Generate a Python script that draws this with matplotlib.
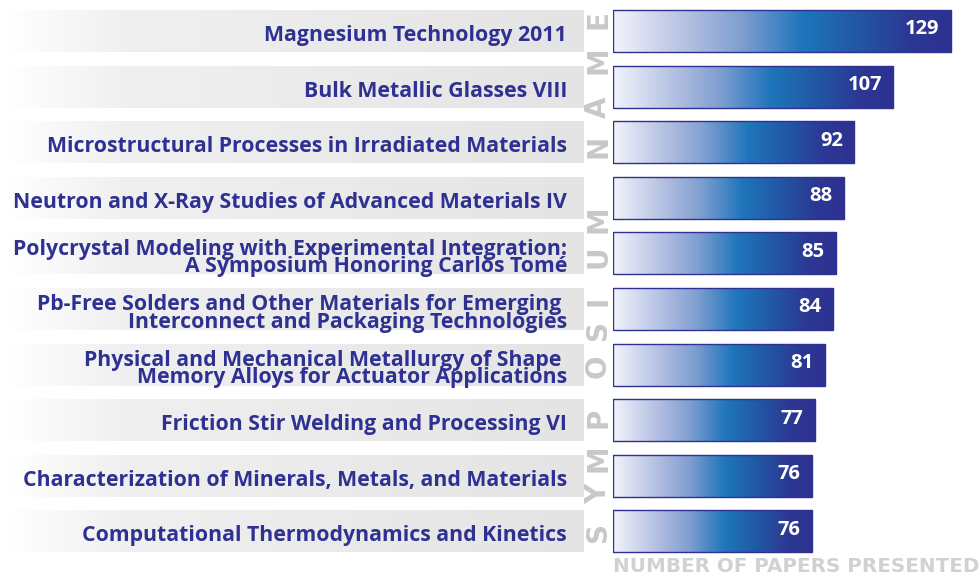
import numpy as np
import matplotlib
matplotlib.use("Agg")
import matplotlib.pyplot as plt
from matplotlib.colors import LinearSegmentedColormap

plt.rcParams['font.family'] = ['Open Sans', 'DejaVu Sans']

# data
symposia = [
    "Magnesium Technology 2011",
    "Bulk Metallic Glasses VIII",
    "Microstructural Processes in Irradiated Materials",
    "Neutron and X-Ray Studies of Advanced Materials IV",
    "Polycrystal Modeling with Experimental Integration:\nA Symposium Honoring Carlos Tomé",
    "Pb-Free Solders and Other Materials for Emerging \nInterconnect and Packaging Technologies",
    "Physical and Mechanical Metallurgy of Shape \nMemory Alloys for Actuator Applications",
    "Friction Stir Welding and Processing VI",
    "Characterization of Minerals, Metals, and Materials",
    "Computational Thermodynamics and Kinetics",
]
papers = [129, 107, 92, 88, 85, 84, 81, 77, 76, 76]
axis_title = "NUMBER OF PAPERS PRESENTED"
side_title = "SYMPOSIUM NAME"

navy = '#2e3192'
bar_cmap = LinearSegmentedColormap.from_list('bar', [
    (0.0, '#f3f4fb'), (0.12, '#d0d7ee'), (0.25, '#aab9de'), (0.38, '#7f9fd0'),
    (0.5, '#3f82c3'), (0.56, '#1e76bb'), (0.72, '#2258a5'), (0.88, '#2c3893'),
    (1.0, navy)])
band_cmap = LinearSegmentedColormap.from_list('band', [
    (0.0, '#ffffff'), (0.2, '#f0f0f0'), (1.0, '#e4e4e4')])
grad = np.linspace(0, 1, 256).reshape(1, -1)

fig = plt.figure(figsize=(9.8, 5.82), dpi=100)

# background layer in pixel units
bg = fig.add_axes([0, 0, 1, 1])
bg.axis('off')

# bar layer
px_per_unit = 2.62
spacing = 55.6
top_center = 31
ax = fig.add_axes([613 / 980, 0, 367 / 980, 1])
ax.axis('off')
bh = 0.755

for i, (name, v) in enumerate(zip(symposia, papers)):
    yc = top_center + spacing * i
    bg.imshow(grad, extent=(6, 583, yc + 21, yc - 21), cmap=band_cmap,
              aspect='auto', zorder=0)
    ax.imshow(grad, extent=(0, v, i + bh / 2, i - bh / 2), cmap=bar_cmap,
              aspect='auto', zorder=1)
    ax.text(v - 4.3, i - 0.03, str(v), ha='right', va='center', color='white',
            fontsize=14.5, fontweight='bold', zorder=3)
    ax.text(-46 / px_per_unit, i + 0.08, name, ha='right', va='center',
            color=navy, fontsize=15.3, fontweight='bold', linespacing=0.76,
            clip_on=False)

ax.barh(range(len(papers)), papers, height=bh, facecolor='none',
        edgecolor=navy, linewidth=1, zorder=2)
ax.set_xlim(0, 367 / px_per_unit)
ax.set_ylim((582 - top_center) / spacing, -top_center / spacing)

# vertical side title, letter by letter
letter_y = [532, 494, 458, 418, 366, 330, 301, 257, 219, None, 146, 107, 60, 20]
for ch, y in zip(side_title, letter_y):
    if y is None:
        continue
    bg.text(598, y, ch, rotation=90, ha='center', va='center', fontsize=20,
            fontweight='heavy', color='#c8c8c8', family='DejaVu Sans')

bg.text(613, 566, axis_title, ha='left', va='center', fontsize=14.3,
        fontweight='bold', color='#d0d1d3', family='DejaVu Sans')

bg.set_xlim(0, 980)
bg.set_ylim(582, 0)

fig.savefig('out.png', dpi=100)
